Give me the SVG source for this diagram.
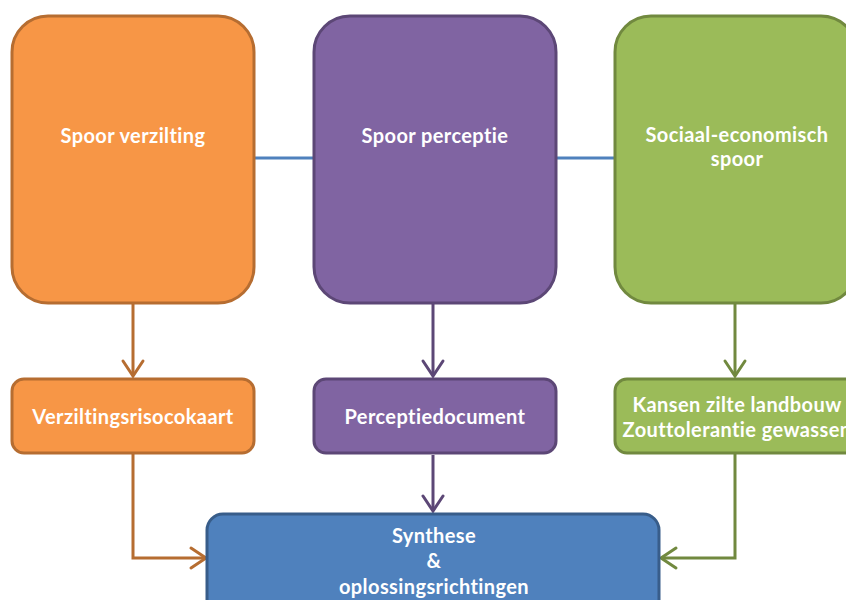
<svg xmlns="http://www.w3.org/2000/svg" width="846" height="600" viewBox="0 0 846 600">
<style>
.t{font-family:Lato,"Open Sans","Liberation Sans",sans-serif;font-weight:bold;font-size:20px;letter-spacing:0.4px;fill:#fff;text-anchor:middle}
.or{fill:#F79646;stroke:#B66D31;stroke-width:3}
.pu{fill:#8064A2;stroke:#5C4776;stroke-width:3}
.gr{fill:#9BBB59;stroke:#71893F;stroke-width:3}
.bl{fill:#4F81BD;stroke:#385D8A;stroke-width:3}
.c{fill:none;stroke-width:3;stroke-linejoin:miter}
</style>
<defs>
<marker id="ao" markerUnits="userSpaceOnUse" markerWidth="30" markerHeight="30" refX="18" refY="12" orient="auto" overflow="visible"><path d="M3,2 L18,12 L3,22" fill="none" stroke="#B66D31" stroke-width="3" stroke-linecap="round"/></marker>
<marker id="ap" markerUnits="userSpaceOnUse" markerWidth="30" markerHeight="30" refX="18" refY="12" orient="auto" overflow="visible"><path d="M3,2 L18,12 L3,22" fill="none" stroke="#5C4776" stroke-width="3" stroke-linecap="round"/></marker>
<marker id="ag" markerUnits="userSpaceOnUse" markerWidth="30" markerHeight="30" refX="18" refY="12" orient="auto" overflow="visible"><path d="M3,2 L18,12 L3,22" fill="none" stroke="#71893F" stroke-width="3" stroke-linecap="round"/></marker>
</defs>
<g id="connectors">
<line x1="254" y1="158" x2="313" y2="158" stroke="#4F81BD" stroke-width="3"/>
<line x1="556" y1="158" x2="614" y2="158" stroke="#4F81BD" stroke-width="3"/>
<path class="c" stroke="#B66D31" d="M133,304 V376" marker-end="url(#ao)"/>
<path class="c" stroke="#5C4776" d="M433,304 V376" marker-end="url(#ap)"/>
<path class="c" stroke="#71893F" d="M735,304 V376" marker-end="url(#ag)"/>
<path class="c" stroke="#B66D31" d="M133,454 V558 H206" marker-end="url(#ao)"/>
<path class="c" stroke="#5C4776" d="M433,455 V511" marker-end="url(#ap)"/>
<path class="c" stroke="#71893F" d="M735,454 V558 H661" marker-end="url(#ag)"/>
</g>
<g id="spoor-verzilting"><rect class="or" x="12" y="16" width="242" height="287" rx="36"/><text class="t" x="133" y="143">Spoor verzilting</text></g>
<g id="spoor-perceptie"><rect class="pu" x="314" y="16" width="242" height="287" rx="36"/><text class="t" x="435" y="143">Spoor perceptie</text></g>
<g id="sociaal-economisch"><rect class="gr" x="615" y="16" width="242" height="287" rx="36"/><text class="t" x="737" y="142">Sociaal-economisch</text><text class="t" x="737" y="166">spoor</text></g>
<g id="verziltingsrisicokaart"><rect class="or" x="12" y="379" width="242" height="74" rx="12"/><text class="t" x="133" y="424">Verziltingsrisocokaart</text></g>
<g id="perceptiedocument"><rect class="pu" x="314" y="379" width="242" height="74" rx="12"/><text class="t" x="435" y="424">Perceptiedocument</text></g>
<g id="kansen"><rect class="gr" x="615" y="379" width="242" height="74" rx="12"/><text class="t" x="737" y="412">Kansen zilte landbouw</text><text class="t" x="737" y="437">Zouttolerantie gewassen</text></g>
<g id="synthese"><rect class="bl" x="207" y="514" width="452" height="110" rx="16"/><text class="t" x="434" y="543">Synthese</text><text class="t" x="434" y="568">&amp;</text><text class="t" x="434" y="594">oplossingsrichtingen</text></g>
</svg>
